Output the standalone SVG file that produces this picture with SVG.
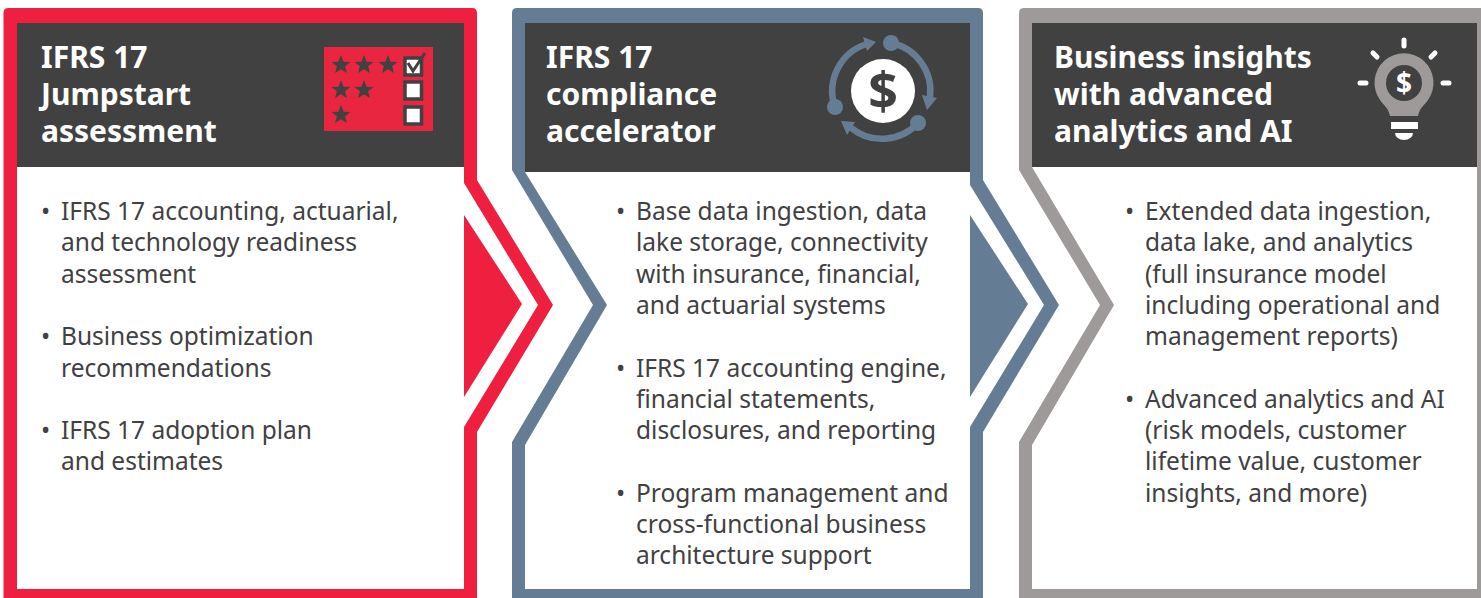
<svg xmlns="http://www.w3.org/2000/svg" width="1481" height="598" viewBox="0 0 1481 598">
<style>
.title{font-family:"Noto Sans","Open Sans",sans-serif;font-weight:700;font-size:30px;fill:#fff}
.body{font-family:"Noto Sans","Open Sans",sans-serif;font-size:24.5px;fill:#414042}
.dark{fill:#414141}
.ico{fill:none;stroke-width:6.5}
.ray{stroke:#fff;stroke-width:5;stroke-linecap:round}
.box{fill:#fff;stroke:#414141;stroke-width:3.5}
</style>
<defs>
<polygon id="star" class="dark" points="0,-10 2.6,-3.2 9.5,-3.1 4.1,1.3 5.9,8.1 0,4.2 -5.9,8.1 -4.1,1.3 -9.5,-3.1 -2.6,-3.2"/>
</defs>
<rect width="1481" height="598" fill="#fff"/>
<g id="node-jumpstart">
<rect class="dark" x="17" y="23" width="447" height="144"/>
<path fill="#ee1f3f" fill-rule="evenodd" d="M8.5 8H472Q477 8 477 13V180L553 305 477 432V600H3.500V13Q3.500 8 8.500 8ZM17 23V589H464V427L538 305 464 183V23Z"/>
<rect class="dark" x="17" y="23" width="447" height="144"/>
<text class="title"><tspan x="41" y="68">IFRS 17</tspan><tspan x="41" y="105">Jumpstart</tspan><tspan x="41" y="142">assessment</tspan></text>
<rect x="324" y="47" width="109" height="84" fill="#e8263f"/>
<use href="#star" x="341" y="65"/><use href="#star" x="364" y="65"/><use href="#star" x="388" y="65"/>
<use href="#star" x="341" y="90"/><use href="#star" x="364" y="90"/><use href="#star" x="341" y="115"/>
<rect class="box" x="405" y="58" width="16.500" height="17"/>
<rect class="box" x="405" y="82" width="16.500" height="17"/>
<rect class="box" x="405" y="107" width="16.500" height="17"/>
<path d="M408 63L413 71 425 53" fill="none" stroke="#414141" stroke-width="3"/>
<text class="body" x="41" y="220">•</text>
<text class="body"><tspan x="61" y="220">IFRS 17 accounting, actuarial,</tspan><tspan x="61" y="251">and technology readiness</tspan><tspan x="61" y="283">assessment</tspan></text>
<text class="body" x="41" y="345">•</text>
<text class="body"><tspan x="61" y="345">Business optimization</tspan><tspan x="61" y="377">recommendations</tspan></text>
<text class="body" x="41" y="439">•</text>
<text class="body"><tspan x="61" y="439">IFRS 17 adoption plan</tspan><tspan x="61" y="470">and estimates</tspan></text>
</g>
<g id="node-accelerator">
<rect class="dark" x="525" y="23" width="445" height="149"/>
<path fill="#657d94" fill-rule="evenodd" d="M517 8H978Q983 8 983 13V180L1059 305 983 432V600H512V442L593 305 512 170V13Q512 8 517 8ZM525 23V172L607 305 525 445V589H970V427L1044 305 970 185V23Z"/>
<text class="title"><tspan x="546" y="68">IFRS 17</tspan><tspan x="546" y="105">compliance</tspan><tspan x="546" y="142">accelerator</tspan></text>
<circle cx="883" cy="91" r="32" fill="#fff"/>
<text x="883" y="110" text-anchor="middle" font-family="'Noto Sans',sans-serif" font-weight="700" font-size="52" fill="#414141">$</text>
<g stroke="#657d94" class="ico">
<path d="M835 107A49 49 0 0 1 867 44"/><path d="M891 43A49 49 0 0 1 930 97"/><path d="M918 123A49 49 0 0 1 850 127"/>
</g>
<g fill="#657d94">
<circle cx="891" cy="43" r="8"/><circle cx="835" cy="107" r="8"/><circle cx="918" cy="123" r="8"/>
<polygon points="876,42 863,37 867,51"/><polygon points="927,110 922,95 937,98"/><polygon points="841,121 855,122 847,135"/>
</g>
<text class="body" x="616" y="220">•</text>
<text class="body"><tspan x="636" y="220">Base data ingestion, data</tspan><tspan x="636" y="251">lake storage, connectivity</tspan><tspan x="636" y="283">with insurance, financial,</tspan><tspan x="636" y="314">and actuarial systems</tspan></text>
<text class="body" x="616" y="377">•</text>
<text class="body"><tspan x="636" y="377">IFRS 17 accounting engine,</tspan><tspan x="636" y="408">financial statements,</tspan><tspan x="636" y="439">disclosures, and reporting</tspan></text>
<text class="body" x="616" y="502">•</text>
<text class="body"><tspan x="636" y="502">Program management and</tspan><tspan x="636" y="533">cross-functional business</tspan><tspan x="636" y="564">architecture support</tspan></text>
</g>
<g id="node-insights">
<rect class="dark" x="1032" y="23" width="445" height="144"/>
<path fill="#9e9a99" fill-rule="evenodd" d="M1024 8H1490V600H1019V442L1100 305 1019 170V13Q1019 8 1024 8ZM1032 23V167L1114 305 1032 445V589H1477V23Z"/>
<text class="title"><tspan x="1054" y="68">Business insights</tspan><tspan x="1054" y="105">with advanced</tspan><tspan x="1054" y="142">analytics and AI</tspan></text>
<path fill="#9e9a99" d="M1390 116C1388 107 1384 106 1380 100A29.500 29.500 0 1 1 1428 100C1424 106 1420 107 1418 116Z"/>
<circle class="dark" cx="1404" cy="83" r="18"/>
<text x="1404" y="93" text-anchor="middle" font-family="'Noto Sans',sans-serif" font-weight="700" font-size="28" fill="#fff">$</text>
<rect x="1391" y="122" width="27" height="7" fill="#fff"/>
<path d="M1395 133H1413A9 7 0 0 1 1395 133Z" fill="#fff"/>
<path class="ray" d="M1404 40V46M1360 83H1366M1443 83H1449M1373 53L1377 57M1435 53L1431 57"/>
<text class="body" x="1125" y="220">•</text>
<text class="body"><tspan x="1145" y="220">Extended data ingestion,</tspan><tspan x="1145" y="251">data lake, and analytics</tspan><tspan x="1145" y="283">(full insurance model</tspan><tspan x="1145" y="314">including operational and</tspan><tspan x="1145" y="345">management reports)</tspan></text>
<text class="body" x="1125" y="408">•</text>
<text class="body"><tspan x="1145" y="408">Advanced analytics and AI</tspan><tspan x="1145" y="439">(risk models, customer</tspan><tspan x="1145" y="470">lifetime value, customer</tspan><tspan x="1145" y="502">insights, and more)</tspan></text>
</g>
<g id="connectors">
<polygon points="464,215 522,304 464,397" fill="#ee1f3f"/>
<polygon points="970,215 1028,304 970,397" fill="#657d94"/>
</g>
</svg>
